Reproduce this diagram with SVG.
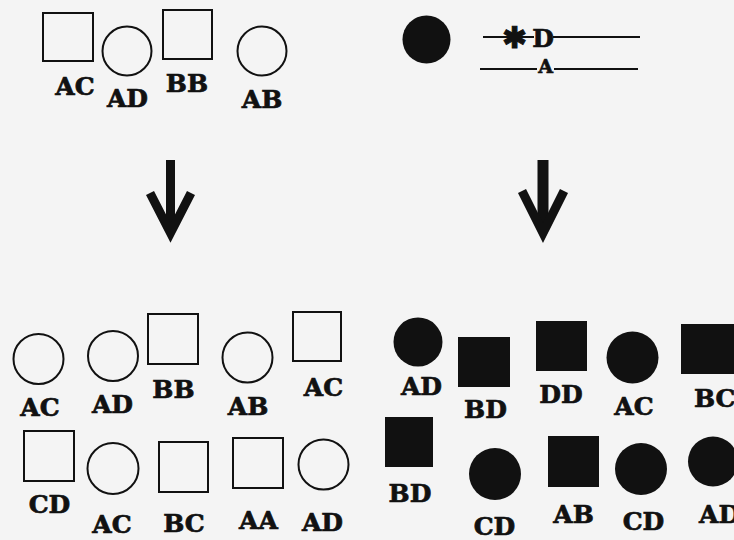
<svg xmlns="http://www.w3.org/2000/svg" width="734" height="540" viewBox="0 0 734 540">
  <style>
    .o { fill: none; stroke: #111; stroke-width: 2; }
    .f { fill: #111; stroke: none; }
    .lb { font-family: "DejaVu Serif", "Liberation Serif", serif; font-weight: bold; font-size: 25px; fill: #111; stroke: #111; stroke-width: 0.7; text-anchor: middle; }
    .ln { stroke: #111; stroke-width: 2; }
    .arr { fill: #111; }
    .arrv { fill: none; stroke: #111; stroke-width: 9; stroke-linejoin: miter; }
  </style>
  <rect width="734" height="540" fill="#f4f4f4"/>

  <!-- parents, left -->
  <g id="p1"><rect class="o" x="43" y="13" width="50" height="48"/><text class="lb" x="75" y="95">AC</text></g>
  <g id="p2"><circle class="o" cx="127" cy="51" r="24.5"/><text class="lb" x="127.5" y="107">AD</text></g>
  <g id="p3"><rect class="o" x="163" y="10" width="49" height="49"/><text class="lb" x="187" y="92">BB</text></g>
  <g id="p4"><circle class="o" cx="262" cy="51" r="24.5"/><text class="lb" x="262" y="108">AB</text></g>

  <!-- parent, right, with chromosome pair -->
  <g id="p5"><circle class="f" cx="426.5" cy="39.5" r="24"/></g>
  <g id="chromosomes">
    <line class="ln" x1="483" y1="37" x2="534" y2="37"/>
    <line class="ln" x1="553" y1="37" x2="640" y2="37"/>
    <text x="514.5" y="48" font-family="DejaVu Sans, sans-serif" font-size="30" font-weight="bold" fill="#111" stroke="#111" stroke-width="1" text-anchor="middle">✱</text>
    <text class="lb" x="543" y="47">D</text>
    <line class="ln" x1="480" y1="69" x2="537" y2="69"/>
    <line class="ln" x1="554" y1="69" x2="638" y2="69"/>
    <text class="lb" x="545.5" y="73" style="font-size:19px">A</text>
  </g>

  <!-- descent arrows -->
  <g id="connectors">
    <rect class="arr" x="166" y="160" width="9" height="70"/>
    <polyline class="arrv" points="150,193 170.5,233 191,193"/>
    <rect class="arr" x="537.5" y="160" width="11" height="70"/>
    <polyline class="arrv" points="522,191 543,233 564,191"/>
  </g>

  <!-- offspring, left, row 1 -->
  <g id="l1"><circle class="o" cx="38.5" cy="359" r="25"/><text class="lb" x="40" y="416">AC</text></g>
  <g id="l2"><circle class="o" cx="113" cy="356" r="25"/><text class="lb" x="112.5" y="413">AD</text></g>
  <g id="l3"><rect class="o" x="148" y="314" width="50" height="50"/><text class="lb" x="173.5" y="398">BB</text></g>
  <g id="l4"><circle class="o" cx="247.5" cy="357.5" r="25"/><text class="lb" x="248" y="415">AB</text></g>
  <g id="l5"><rect class="o" x="293" y="312" width="48" height="49"/><text class="lb" x="323.5" y="396">AC</text></g>

  <!-- offspring, left, row 2 -->
  <g id="l6"><rect class="o" x="24" y="431" width="50" height="50"/><text class="lb" x="49.5" y="513">CD</text></g>
  <g id="l7"><circle class="o" cx="113" cy="468.5" r="25.5"/><text class="lb" x="112" y="533">AC</text></g>
  <g id="l8"><rect class="o" x="159" y="442" width="49" height="50"/><text class="lb" x="184" y="532">BC</text></g>
  <g id="l9"><rect class="o" x="233" y="438" width="50" height="50"/><text class="lb" x="258.5" y="529">AA</text></g>
  <g id="l10"><circle class="o" cx="323.5" cy="464.5" r="25"/><text class="lb" x="322.5" y="531">AD</text></g>

  <!-- offspring, right, row 1 -->
  <g id="r1"><circle class="f" cx="418" cy="342" r="24.5"/><text class="lb" x="421.5" y="395">AD</text></g>
  <g id="r2"><rect class="f" x="458" y="337" width="52" height="50"/><text class="lb" x="485.5" y="418">BD</text></g>
  <g id="r3"><rect class="f" x="536" y="321" width="51" height="50"/><text class="lb" x="561" y="403">DD</text></g>
  <g id="r4"><circle class="f" cx="632.5" cy="357.5" r="26"/><text class="lb" x="634" y="415">AC</text></g>
  <g id="r5"><rect class="f" x="681" y="324" width="53" height="50"/><text class="lb" x="694" y="407" style="text-anchor:start">BC</text></g>

  <!-- offspring, right, row 2 -->
  <g id="r6"><rect class="f" x="385" y="417" width="48" height="50"/><text class="lb" x="410" y="502">BD</text></g>
  <g id="r7"><circle class="f" cx="495" cy="474" r="26"/><text class="lb" x="494.5" y="535">CD</text></g>
  <g id="r8"><rect class="f" x="548" y="436" width="51" height="51"/><text class="lb" x="573.5" y="523">AB</text></g>
  <g id="r9"><circle class="f" cx="641" cy="469" r="26"/><text class="lb" x="643.5" y="530">CD</text></g>
  <g id="r10"><circle class="f" cx="713" cy="461.5" r="25"/><text class="lb" x="699" y="523" style="text-anchor:start">AD</text></g>
</svg>
